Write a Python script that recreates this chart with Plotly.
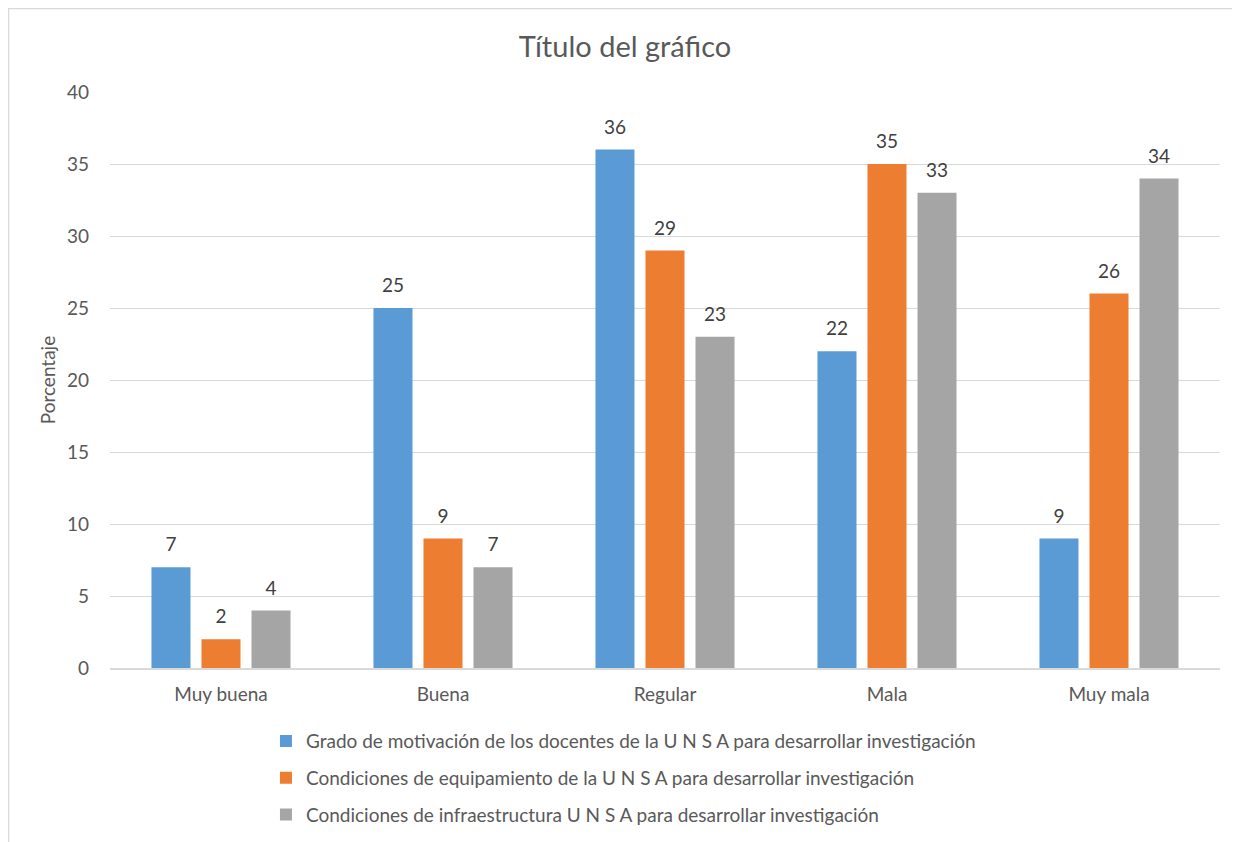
import plotly.graph_objects as go

categories = ["Muy buena", "Buena", "Regular", "Mala", "Muy mala"]
series_names = [
    "Grado de motivación de los docentes de la U N S A para desarrollar investigación",
    "Condiciones de equipamiento de la U N S A para desarrollar investigación",
    "Condiciones de infraestructura U N S A para desarrollar investigación",
]
motivacion = [7, 25, 36, 22, 9]
equipamiento = [2, 9, 29, 35, 26]
infraestructura = [4, 7, 23, 33, 34]
colors = ["#5B9BD5", "#ED7D31", "#A5A5A5"]

FONT = "Lato, Open Sans, sans-serif"
L, R, T, B = 102, 28, 84, 182
W, H = 1240, 842
PW, PH = W - L - R, H - T - B

fig = go.Figure()
all_vals = [motivacion, equipamiento, infraestructura]
for i, (name, vals) in enumerate(zip(series_names, all_vals)):
    fig.add_trace(go.Bar(
        x=categories, y=vals, name=name,
        marker=dict(color=colors[i], line=dict(width=0)),
        offsetgroup=str(i), alignmentgroup="a",
        legendgroup=f"g{i}",
    ))
for i, vals in enumerate(all_vals):
    fig.add_trace(go.Scatter(
        x=categories, y=vals, mode="markers+text",
        text=[str(v) for v in vals], textposition="top center",
        textfont=dict(size=19, color="#404040", family=FONT),
        marker=dict(size=16, opacity=0),
        offsetgroup=str(i), alignmentgroup="a",
        showlegend=False, hoverinfo="skip", cliponaxis=False,
    ))

fig.update_layout(
    width=W, height=H,
    margin=dict(l=L, r=R, t=T, b=B),
    paper_bgcolor="white", plot_bgcolor="white",
    font=dict(family=FONT, size=19, color="#595959"),
    title=dict(text="Título del gráfico", x=0.4976, xanchor="center", y=0.954, yanchor="middle",
               font=dict(size=29, color="#595959", family=FONT)),
    barmode="group", bargap=0.324, bargroupgap=0.22,
    scattermode="group", scattergap=0.324,
    showlegend=True,
    legend=dict(orientation="v", x=0.1405, xanchor="left", y=-0.094, yanchor="top",
                font=dict(size=19, color="#595959", family=FONT), tracegroupgap=9,
                itemwidth=30),
    xaxis=dict(showgrid=False, showline=True, linecolor="#D9D9D9", linewidth=2,
               ticks="", ticklabelstandoff=8, tickfont=dict(size=19, color="#595959")),
    yaxis=dict(range=[0, 40], dtick=5, showgrid=True, gridcolor="#D9D9D9", gridwidth=1,
               zeroline=False, showline=False, ticks="", ticklabelstandoff=20,
               tickfont=dict(size=19, color="#595959"),
               title=dict(text="Porcentaje", font=dict(size=19, color="#595959"), standoff=6)),
    shapes=[dict(type="rect", xref="paper", yref="paper",
                 x0=-(L - 0.5) / PW, x1=1 + (R + 10) / PW,
                 y0=-(B + 10) / PH, y1=1 + (T - 0.5) / PH,
                 line=dict(color="#D9D9D9", width=1.5), fillcolor="rgba(0,0,0,0)", layer="below")],
)

fig.write_html("out.html")
